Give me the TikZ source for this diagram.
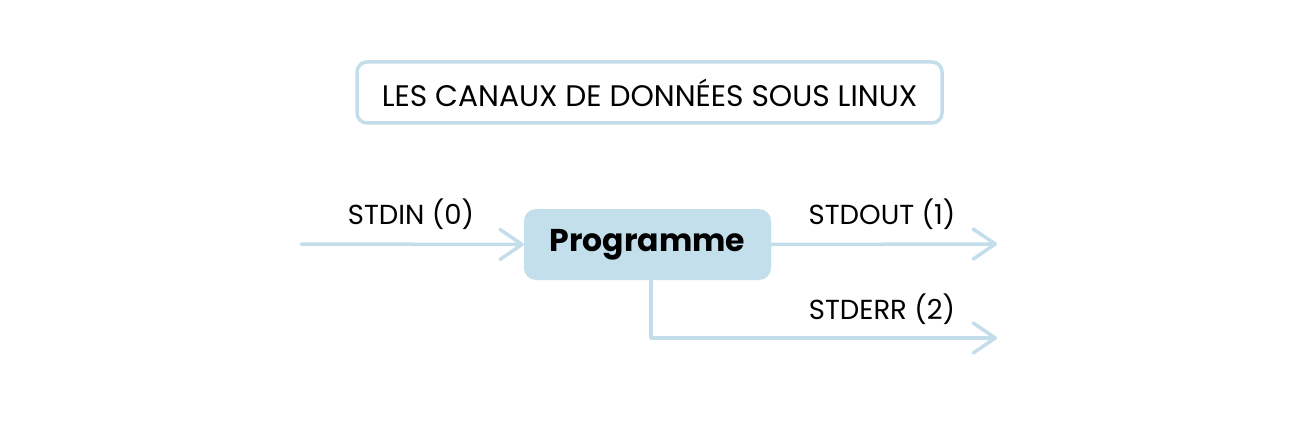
\documentclass[tikz,border=0pt]{standalone}
\usepackage{fontspec}
\setmainfont{Poppins}
\usetikzlibrary{arrows.meta}
\definecolor{lineblue}{HTML}{C3DEEA}
\definecolor{boxblue}{HTML}{C3DFEB}
\tikzset{
  flow/.style={draw=lineblue, line width=3.5pt, line cap=round, line join=round,
    -{Straight Barb[length=22pt,width=30pt,line width=3.5pt,round]}},
  titlebox/.style={draw=lineblue, line width=3.5pt, rounded corners=10pt, fill=white,
    minimum width=585pt, minimum height=61pt, font=\fontsize{29.7}{34}\selectfont},
  progbox/.style={fill=boxblue, rounded corners=12pt, minimum width=247pt,
    minimum height=71pt, font=\fontsize{31.5}{36}\selectfont\bfseries},
  lbl/.style={font=\fontsize{27.5}{32}\selectfont, text=black}
}
\begin{document}
\begin{tikzpicture}[x=1pt,y=-1pt]
\useasboundingbox (0,0) rectangle (1300,422);
\node[titlebox] (title) at (649.5,92.5) {LES CANAUX DE DONNÉES SOUS LINUX};
\node[progbox] (prog) at (647.5,244.5) {Programme};
\coordinate (in) at (301,244);
\coordinate (out) at (997,244);
\coordinate (err) at (997,338);
\coordinate (corner) at (651,338);
\draw[flow] (in) -- (prog.west);
\draw[flow] (prog.east) -- (out);
\draw[flow] (prog.south -| corner) -- (corner) -- (err);
\node[lbl] (lin) at (411,214) {STDIN (0)};
\node[lbl] (lout) at (882,214) {STDOUT (1)};
\node[lbl] (lerr) at (882,309) {STDERR (2)};
\end{tikzpicture}
\end{document}
